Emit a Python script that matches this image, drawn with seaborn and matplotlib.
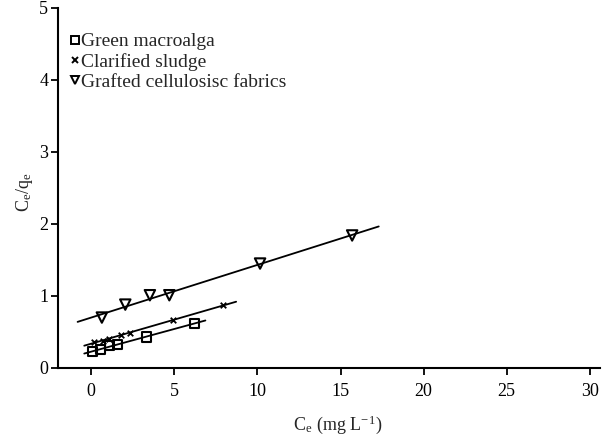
import numpy as np
import pandas as pd
import matplotlib
matplotlib.use("Agg")
import matplotlib.pyplot as plt
import seaborn as sns
from matplotlib.lines import Line2D

# Data
green_x = [0.08, 0.58, 1.08, 1.58, 3.33, 6.2]
green_y = [0.23, 0.26, 0.31, 0.32, 0.43, 0.62]
sludge_x = [0.14, 0.68, 1.08, 1.79, 2.33, 4.9, 7.9]
sludge_y = [0.36, 0.38, 0.40, 0.46, 0.49, 0.66, 0.87]
graft_x = [0.64, 2.05, 3.53, 4.7, 10.16, 15.7]
graft_y = [0.70, 0.88, 1.01, 1.01, 1.45, 1.84]
green_fit_range = [-0.42, 6.87]
sludge_fit_range = [-0.42, 8.72]
graft_fit_range = [-0.82, 17.3]
labels = ["Green macroalga", "Clarified sludge", "Grafted cellulosisc fabrics"]
x_ticks = [0, 5, 10, 15, 20, 25, 30]
y_ticks = [0, 1, 2, 3, 4, 5]

sns.set_theme(style="ticks")
plt.rcParams['font.family'] = ['Liberation Serif', 'DejaVu Serif']
plt.rcParams['mathtext.fontset'] = 'stix'

fig = plt.figure(figsize=(6.04, 4.36), dpi=100)
ax = fig.add_axes([0.096, 0.156, 0.897, 0.826])

series = [
    (green_x, green_y, green_fit_range, 's', 6.5, True),
    (sludge_x, sludge_y, sludge_fit_range, 'x', 4.0, False),
    (graft_x, graft_y, graft_fit_range, 'v', 7.5, True),
]
handles = []
for (xs, ys, rng, mk, ms, hollow), lab in zip(series, labels):
    slope, icpt = np.polyfit(xs, ys, 1)
    lx = np.array(rng)
    line_df = pd.DataFrame({"x": lx, "y": slope * lx + icpt})
    sns.lineplot(data=line_df, x="x", y="y", ax=ax, color="black", lw=1.3)
    df = pd.DataFrame({"x": xs, "y": ys})
    if hollow:
        sns.scatterplot(data=df, x="x", y="y", ax=ax, marker=mk, s=ms**2,
                        facecolor="none", edgecolor="black", linewidth=1.5, zorder=3)
    else:
        sns.scatterplot(data=df, x="x", y="y", ax=ax, marker=mk, s=ms**2,
                        color="black", linewidth=1.3, zorder=3)
    handles.append(Line2D([], [], marker=mk, linestyle='none', markersize=6 if mk != 'x' else 4,
                          markerfacecolor='none' if hollow else 'black', markeredgecolor='black',
                          markeredgewidth=1.4, label=lab))

ax.set_xlim(-2, 30.6)
ax.set_ylim(0, 5)
ax.set_xticks(x_ticks)
ax.set_yticks(y_ticks)
ax.tick_params(direction='out', length=5, width=1.3, labelsize=13, colors='black', pad=2)
ax.tick_params(axis='x', pad=6)
for s in ['left', 'bottom']:
    ax.spines[s].set_linewidth(1.5)
    ax.spines[s].set_color('black')
sns.despine(ax=ax)
ax.set_xlabel(r'C$_\mathregular{e}$ (mg L$^{\mathregular{-1}}$)', fontsize=13)
ax.set_ylabel(r'C$_\mathregular{e}$/q$_\mathregular{e}$', fontsize=13)
ax.xaxis.set_label_coords(0.517, -0.127)
ax.yaxis.set_label_coords(-0.043, 0.49)

leg = ax.legend(handles=handles, loc='upper left', bbox_to_anchor=(0.0, 0.963), frameon=False,
                fontsize=14, handlelength=0.5, handletextpad=0.1, labelspacing=0.12,
                borderaxespad=0.2)

fig.savefig("out.png", dpi=100)
